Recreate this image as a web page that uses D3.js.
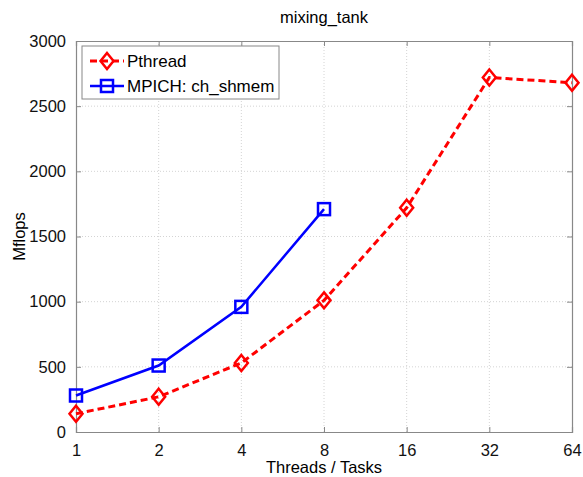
<!DOCTYPE html>
<html>
<head>
<meta charset="utf-8">
<script src="https://cdn.jsdelivr.net/npm/d3@7"></script>
<style>
  body { margin: 0; background: #fff; }
  text { font-family: "Liberation Sans", Arial, sans-serif; }
</style>
</head>
<body>
<svg id="chart" width="583" height="477"></svg>
<script>
// chart data
const threads = [1, 2, 4, 8, 16, 32, 64];
const pthreadMflops = [140, 270, 530, 1010, 1720, 2720, 2680];
const mpichThreads = [1, 2, 4, 8];
const mpichMflops = [280, 510, 960, 1710];
const yTicks = [0, 500, 1000, 1500, 2000, 2500, 3000];

const margin = { top: 41, right: 11, bottom: 45, left: 76 };
const width = 583 - margin.left - margin.right;
const height = 477 - margin.top - margin.bottom;

const svg = d3.select("#chart");
const g = svg.append("g").attr("transform", `translate(${margin.left},${margin.top})`);

const x = d3.scaleLog().base(2).domain([1, 64]).range([0, width]);
const y = d3.scaleLinear().domain([0, 3000]).range([height, 0]);

// grid
g.append("g").selectAll("line").data(threads.slice(1, -1)).enter().append("line")
  .attr("x1", d => x(d)).attr("x2", d => x(d)).attr("y1", 0).attr("y2", height)
  .attr("stroke", "#d4d4d4").attr("stroke-dasharray", "1,2");
g.append("g").selectAll("line").data(yTicks.slice(1, -1)).enter().append("line")
  .attr("x1", 0).attr("x2", width).attr("y1", d => y(d)).attr("y2", d => y(d))
  .attr("stroke", "#d4d4d4").attr("stroke-dasharray", "1,2");

// axes (ticks inside, mirrored)
const axisColor = "#888";
const axBottom = g.append("g").attr("transform", `translate(0,${height})`)
  .call(d3.axisBottom(x).tickValues(threads).tickFormat(d3.format("d")).tickSize(-5).tickPadding(12));
const axTop = g.append("g").call(d3.axisTop(x).tickValues(threads).tickFormat("").tickSize(-5));
const axLeft = g.append("g").call(d3.axisLeft(y).tickValues(yTicks).tickFormat(d3.format("d")).tickSize(-5).tickPadding(10));
const axRight = g.append("g").attr("transform", `translate(${width},0)`)
  .call(d3.axisRight(y).tickValues(yTicks).tickFormat("").tickSize(-5));
[axBottom, axTop, axLeft, axRight].forEach(a => {
  a.select(".domain").attr("stroke", axisColor).attr("stroke-width", 1.2);
  a.selectAll(".tick line").attr("stroke", axisColor);
  a.selectAll(".tick text").attr("fill", "#111").attr("font-size", 16.5);
});

// lines
const line = d3.line().x(d => x(d[0])).y(d => y(d[1]));
const pData = threads.map((t, i) => [t, pthreadMflops[i]]);
const mData = mpichThreads.map((t, i) => [t, mpichMflops[i]]);

g.append("path").datum(pData).attr("d", line).attr("fill", "none")
  .attr("stroke", "#ff0000").attr("stroke-width", 3).attr("stroke-dasharray", "7,4");
g.append("path").datum(mData).attr("d", line).attr("fill", "none")
  .attr("stroke", "#0000ff").attr("stroke-width", 2.5);

const diamond = (cx, cy) => `M${cx},${cy - 8}L${cx + 6.5},${cy}L${cx},${cy + 8}L${cx - 6.5},${cy}Z`;
g.append("g").selectAll("path").data(pData).enter().append("path")
  .attr("d", d => diamond(x(d[0]), y(d[1])))
  .attr("fill", "none").attr("stroke", "#ff0000").attr("stroke-width", 2.5);
g.append("g").selectAll("rect").data(mData).enter().append("rect")
  .attr("x", d => x(d[0]) - 6).attr("y", d => y(d[1]) - 6)
  .attr("width", 12).attr("height", 12)
  .attr("fill", "none").attr("stroke", "#0000ff").attr("stroke-width", 2.5);

// legend
const lg = g.append("g").attr("transform", "translate(6,5)");
lg.append("rect").attr("width", 197).attr("height", 53)
  .attr("fill", "#fff").attr("stroke", "#888").attr("stroke-width", 1);
lg.append("line").attr("x1", 8).attr("x2", 42).attr("y1", 15).attr("y2", 15)
  .attr("stroke", "#ff0000").attr("stroke-width", 3).attr("stroke-dasharray", "7,4");
lg.append("path").attr("d", diamond(25, 15)).attr("fill", "none")
  .attr("stroke", "#ff0000").attr("stroke-width", 2.5);
lg.append("text").attr("x", 45).attr("y", 21).attr("font-size", 17).text("Pthread");
lg.append("line").attr("x1", 8).attr("x2", 42).attr("y1", 40).attr("y2", 40)
  .attr("stroke", "#0000ff").attr("stroke-width", 2.5);
lg.append("rect").attr("x", 19).attr("y", 34).attr("width", 12).attr("height", 12)
  .attr("fill", "none").attr("stroke", "#0000ff").attr("stroke-width", 2.5);
lg.append("text").attr("x", 45).attr("y", 46).attr("font-size", 17).text("MPICH: ch_shmem");

// titles
svg.append("text").attr("x", margin.left + width / 2).attr("y", 23)
  .attr("text-anchor", "middle").attr("font-size", 16.5).text("mixing_tank");
svg.append("text").attr("x", margin.left + width / 2).attr("y", 473)
  .attr("text-anchor", "middle").attr("font-size", 16.5).text("Threads / Tasks");
svg.append("text").attr("transform", `translate(25,${margin.top + height / 2}) rotate(-90)`)
  .attr("text-anchor", "middle").attr("font-size", 16.5).text("Mflops");
</script>
</body>
</html>
